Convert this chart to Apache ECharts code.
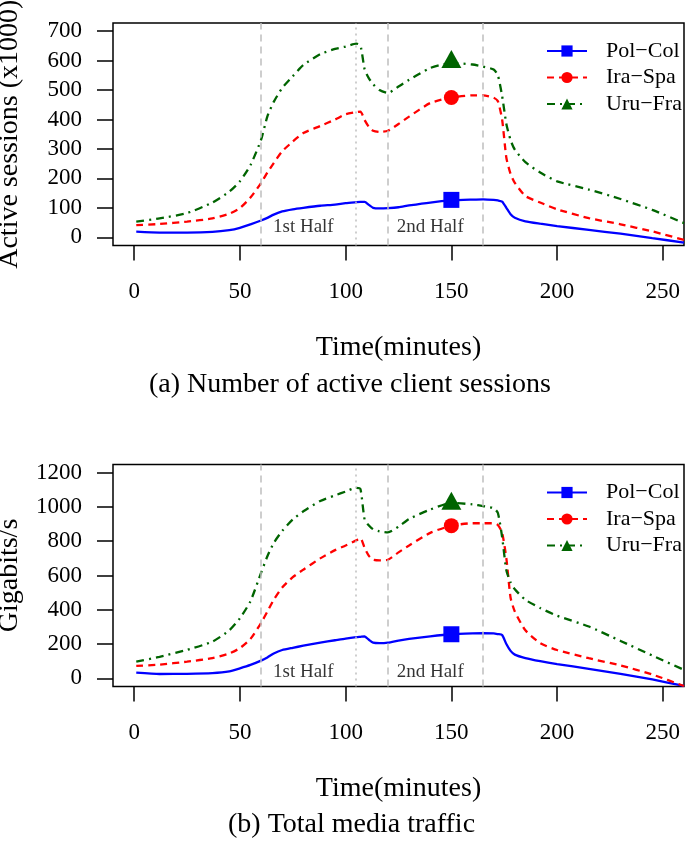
<!DOCTYPE html>
<html><head><meta charset="utf-8">
<script src="https://cdn.jsdelivr.net/npm/echarts@6/dist/echarts.min.js"></script>
<style>html,body{margin:0;padding:0;background:#fff}#c{width:685px;height:841px}</style>
</head><body><div id="c"></div>
<script>
const minutes = [1, 12, 25, 37, 45, 50, 55, 60, 63, 66, 70, 75, 80, 88, 95, 100, 105, 107, 109, 111, 113, 116, 120, 125, 130, 140, 150, 160, 165, 170, 172, 174, 176, 178, 180, 185, 192, 200, 215, 230, 245, 260];
const sessionsPolCol = [19,16,16,18,24,32,44,57,66,77,88,95,100,107,111,116,119,120,120,110,100,98,99,102,108,118,125,128,129,127,125,121,100,78,66,54,46,38,25,12,-3,-18];
const sessionsIraSpa = [41,45,53,64,80,99,135,184,220,252,292,325,354,378,400,418,425,427,398,375,362,358,362,385,410,456,475,482,482,474,462,400,270,215,185,140,118,95,65,44,20,-9];
const sessionsUruFra = [53,64,82,118,155,190,245,331,411,460,507,547,585,622,640,648,658,652,570,540,520,500,490,512,535,575,592,587,580,570,550,480,385,330,298,255,220,190,162,130,93,48];
const trafficPolCol = [33,25,26,30,40,58,78,103,122,145,165,178,190,208,222,232,240,242,244,225,208,205,208,220,230,245,257,262,263,262,258,253,200,160,138,118,100,83,55,26,-7,-45];
const trafficIraSpa = [72,80,97,118,145,176,230,322,390,458,530,590,634,700,748,775,805,818,760,715,692,688,692,735,775,849,891,905,905,905,895,850,700,470,390,280,205,165,117,75,22,-45];
const trafficUruFra = [97,125,166,214,280,350,450,615,712,790,860,927,975,1035,1068,1090,1112,1105,925,892,870,858,852,885,930,985,1024,1015,1005,993,965,825,630,560,520,458,410,365,302,218,133,49];

const seriesNames = ['Pol\u2212Col', 'Ira\u2212Spa', 'Uru\u2212Fra'];
const xTicks = [0, 50, 100, 150, 200, 250];
const sessionsTicks = [0, 100, 200, 300, 400, 500, 600, 700];
const trafficTicks = [0, 200, 400, 600, 800, 1000, 1200];
const halfLines = [60, 120, 165];
const halftimeLines = [105];
const halfLabels = ['1st Half', '2nd Half'];
const halfLabelMinutes = [80, 140];
const sessionsHalfLabelY = 36;
const trafficHalfLabelY = 39;
const markerMinute = 150;
const sessionsMarkers = [127, 475, 606];
const trafficMarkers = [257, 891, 1036];
const captions = ['(a) Number of active client sessions', '(b) Total media traffic'];
const yTitles = ['Active sessions (x1000)', 'Gigabits/s'];
const xTitle = 'Time(minutes)';

const FONT = 'Liberation Serif';
const colors = ['#0000FF', '#FF0000', '#006400'];
const dashTypes = ['solid', [7, 5], [8, 5, 2, 5]];
const symbols = ['rect', 'circle', 'triangle'];
const markerSizes = [16, 15, [20, 18]];

const chart = echarts.init(document.getElementById('c'), null, {renderer: 'canvas'});

function lineSeries(g, arr, i, markers) {
  return {
    type: 'line', name: seriesNames[i], xAxisIndex: g, yAxisIndex: g,
    data: minutes.map((m, k) => [m, arr[k]]),
    showSymbol: false, symbol: symbols[i], symbolSize: 10, smooth: 0.2,
    lineStyle: {color: colors[i], width: 2.3, type: dashTypes[i]},
    itemStyle: {color: colors[i]},
    z: 3,
    markPoint: {
      symbol: symbols[i], symbolSize: markerSizes[i], silent: true,
      label: {show: false}, itemStyle: {color: colors[i]},
      data: [{coord: [markerMinute, markers[i]]}]
    }
  };
}
function refSeries(g) {
  return {
    type: 'line', name: 'ref' + g, xAxisIndex: g, yAxisIndex: g, data: [], z: 1,
    markLine: {
      silent: true, symbol: ['none', 'none'], label: {show: false},
      lineStyle: {color: '#BEBEBE', width: 1.5},
      data: halfLines.map(v => ({xAxis: v, lineStyle: {type: [7, 5]}}))
        .concat(halftimeLines.map(v => ({xAxis: v, lineStyle: {type: [2, 4]}})))
    }
  };
}
function labelSeries(g, y) {
  return {
    type: 'scatter', name: 'lab' + g, xAxisIndex: g, yAxisIndex: g, symbolSize: 0, z: 4,
    data: halfLabelMinutes.map(m => [m, y]),
    label: {show: true, position: 'inside', formatter: p => halfLabels[p.dataIndex],
      fontFamily: FONT, fontSize: 19, color: '#000'}
  };
}
function xAxis(g) {
  return {
    type: 'value', gridIndex: g, min: -10, max: 260,
    axisLine: {show: false, onZero: false}, splitLine: {show: false},
    axisTick: {show: true, length: 15, customValues: xTicks, lineStyle: {color: '#000', width: 1.5}},
    axisLabel: {customValues: xTicks, margin: 35, fontSize: 23, fontFamily: FONT, color: '#000', formatter: v => String(v)},
    name: xTitle, nameLocation: 'middle', nameGap: 88,
    nameTextStyle: {fontSize: 28, fontFamily: FONT, color: '#000'}
  };
}
function yAxis(g, min, max, ticks) {
  return {
    type: 'value', gridIndex: g, min: min, max: max,
    axisLine: {show: false, onZero: false}, splitLine: {show: false},
    axisTick: {show: true, length: 16, customValues: ticks, lineStyle: {color: '#000', width: 1.5}},
    axisLabel: {customValues: ticks, margin: 31, fontSize: 23, fontFamily: FONT, color: '#000', formatter: v => String(v)},
    name: yTitles[g], nameLocation: 'middle', nameGap: 89, nameRotate: 90,
    nameTextStyle: {fontSize: 28, fontFamily: FONT, color: '#000'}
  };
}
function legend(top) {
  return {
    data: seriesNames, left: 546, top: top, orient: 'vertical', padding: 0,
    itemWidth: 40, itemHeight: 14, itemGap: 4.5, selectedMode: false,
    textStyle: {fontFamily: FONT, fontSize: 22, color: '#000', lineHeight: 20, padding: [0, 0, 0, 14]}
  };
}

chart.setOption({
  animation: false,
  backgroundColor: '#fff',
  title: [
    {text: captions[0], left: 149, top: 371, padding: 0, textStyle: {fontFamily: FONT, fontSize: 28, fontWeight: 'normal', color: '#000'}},
    {text: captions[1], left: 228, top: 811, padding: 0, textStyle: {fontFamily: FONT, fontSize: 28, fontWeight: 'normal', color: '#000'}}
  ],
  legend: [legend(40), legend(481.5)],
  grid: [
    {left: 113, top: 23, width: 571, height: 222.5, show: true, borderColor: '#000', borderWidth: 1.5, backgroundColor: 'transparent', containLabel: false, outerBoundsMode: 'none'},
    {left: 113, top: 464.5, width: 571, height: 222, show: true, borderColor: '#000', borderWidth: 1.5, backgroundColor: 'transparent', containLabel: false, outerBoundsMode: 'none'}
  ],
  xAxis: [xAxis(0), xAxis(1)],
  yAxis: [yAxis(0, -28, 728, sessionsTicks), yAxis(1, -48, 1248, trafficTicks)],
  series: [
    refSeries(0), refSeries(1),
    lineSeries(0, sessionsPolCol, 0, sessionsMarkers),
    lineSeries(0, sessionsIraSpa, 1, sessionsMarkers),
    lineSeries(0, sessionsUruFra, 2, sessionsMarkers),
    lineSeries(1, trafficPolCol, 0, trafficMarkers),
    lineSeries(1, trafficIraSpa, 1, trafficMarkers),
    lineSeries(1, trafficUruFra, 2, trafficMarkers),
    labelSeries(0, sessionsHalfLabelY), labelSeries(1, trafficHalfLabelY)
  ]
});
</script></body></html>
